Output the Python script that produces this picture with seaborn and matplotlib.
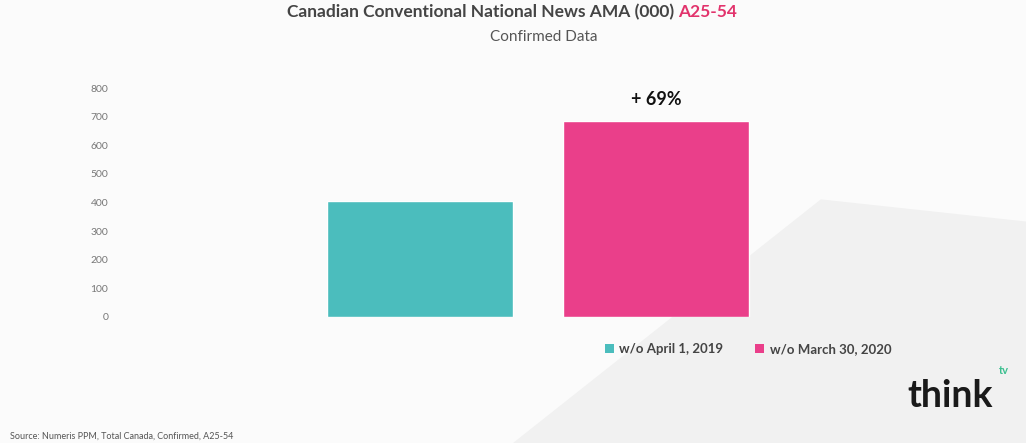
import matplotlib
matplotlib.use("Agg")
import matplotlib.pyplot as plt
import seaborn as sns
import pandas as pd
from matplotlib.patches import Patch, Polygon

# Weekly average minute audience (000), adults 25-54
periods = ["w/o April 1, 2019", "w/o March 30, 2020"]
ama = [405, 685]
bar_colors = ["#4bbdbd", "#ea3f8a"]
y_ticks = [0, 100, 200, 300, 400, 500, 600, 700, 800]

sns.set_theme(style="white")
plt.rcParams["font.family"] = ["Lato", "DejaVu Sans"]

df = pd.DataFrame({"period": periods, "ama": ama})

fig = plt.figure(figsize=(10.26, 4.43), dpi=100)
fig.patch.set_facecolor("#fbfbfb")

# soft grey wash in the lower right corner, kept behind the plot
wash = Polygon([[0.5, 0.0], [1.0, 0.0], [1.0, 0.5], [0.8, 0.55]],
               closed=True, transform=fig.transFigure,
               facecolor="#f1f1f1", edgecolor="none", zorder=-10)
fig.patches.append(wash)

W, H = 1026, 443
ax = fig.add_axes([125 / W, (H - 317) / H, (880 - 125) / W, (317 - 88) / H])
ax.set_zorder(5)
ax.set_facecolor("none")

sns.barplot(data=df, x="period", y="ama", hue="period", palette=bar_colors,
            width=0.79, legend=False, ax=ax, saturation=1)

ax.set_xlim(-1.25, 1.95)
ax.set_ylim(0, 800)
ax.set_yticks(y_ticks)
ax.set_yticklabels([str(t) for t in y_ticks], fontsize=7.5, color="#777777")
ax.tick_params(axis="y", length=0, pad=12)
ax.set_xticks([])
ax.set_xlabel("")
ax.set_ylabel("")
for s in ax.spines.values():
    s.set_visible(False)

# growth label above the 2020 bar
pct = round((ama[1] / ama[0] - 1) * 100)
ax.text(1, ama[1] + 45, f"+ {pct}%", ha="center", va="bottom",
        fontsize=13, fontweight="bold", color="#111111")

# title with highlighted demo
t1 = fig.text(0.5, 1 - 12 / H, "Canadian Conventional National News AMA (000) ",
              ha="left", va="center", fontsize=12.5, fontweight="bold", color="#444444")
t2 = fig.text(0, 1 - 12 / H, "A25-54", ha="left", va="center",
              fontsize=12.5, fontweight="bold", color="#e2336c")
fig.canvas.draw()
w1 = t1.get_window_extent().width
w2 = t2.get_window_extent().width
x0 = 512 - (w1 + w2) / 2
t1.set_x(x0 / W)
t2.set_x((x0 + w1) / W)

fig.text(544 / W, 1 - 37 / H, "Confirmed Data", ha="center", va="center",
         fontsize=11, color="#555555")

handles = [Patch(facecolor=c, edgecolor="none") for c in bar_colors]
leg = fig.legend(handles, periods, loc="center", bbox_to_anchor=(748 / W, 1 - 349 / H),
                 ncol=2, frameon=False, handlelength=0.7, handleheight=0.7,
                 handletextpad=0.4, columnspacing=2.4, labelcolor="#444444",
                 prop={"weight": "bold", "size": 9.5})
leg.set_zorder(6)

fig.text(10 / W, 1 - 436 / H, "Source: Numeris PPM, Total Canada, Confirmed, A25-54",
         ha="left", va="center", fontsize=6.5, color="#555555")

fig.text(907 / W, 1 - 396 / H, "think", ha="left", va="center",
         fontsize=27, fontweight="bold", color="#1a1a1a")
fig.text(999 / W, 1 - 371 / H, "tv", ha="left", va="center",
         fontsize=8, fontweight="bold", color="#3bbf8f")

fig.savefig("out.png", dpi=100, facecolor=fig.get_facecolor())
